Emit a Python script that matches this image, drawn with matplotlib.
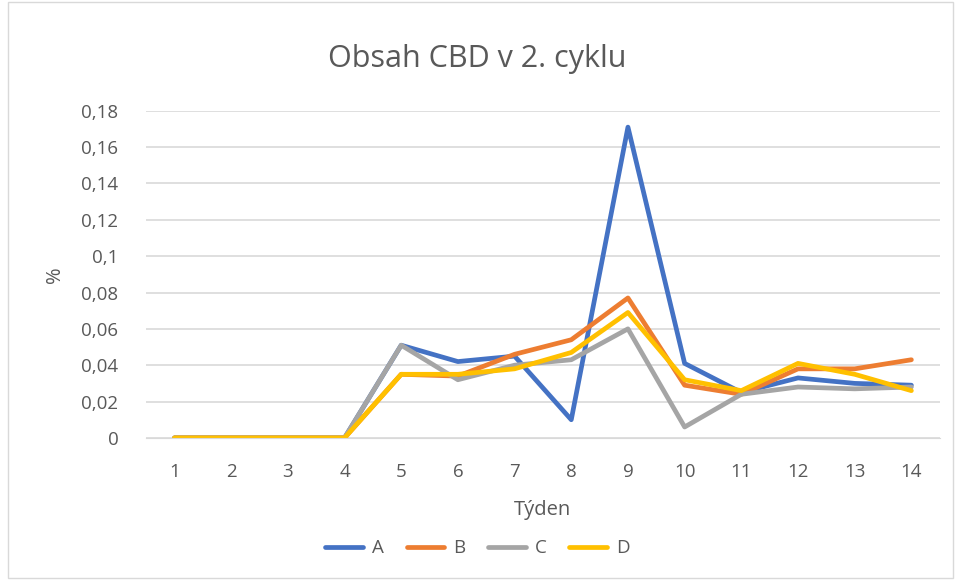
import matplotlib.pyplot as plt
from matplotlib.patches import Rectangle
from matplotlib.ticker import FuncFormatter

plt.rcParams['font.family'] = ['Open Sans', 'DejaVu Sans']

weeks = list(range(1, 15))
a = [0, 0, 0, 0, 0.051, 0.042, 0.045, 0.010, 0.171, 0.041, 0.025, 0.033, 0.030, 0.029]
b = [0, 0, 0, 0, 0.035, 0.034, 0.046, 0.054, 0.077, 0.029, 0.024, 0.038, 0.038, 0.043]
c = [0, 0, 0, 0, 0.051, 0.032, 0.040, 0.043, 0.060, 0.006, 0.024, 0.028, 0.027, 0.028]
d = [0, 0, 0, 0, 0.035, 0.035, 0.038, 0.047, 0.069, 0.032, 0.026, 0.041, 0.035, 0.026]
yticks = [0, 0.02, 0.04, 0.06, 0.08, 0.1, 0.12, 0.14, 0.16, 0.18]

series = [('A', a, '#4472c4'), ('B', b, '#ed7d31'), ('C', c, '#a5a5a5'), ('D', d, '#ffc000')]
txt = '#595959'

fig = plt.figure(figsize=(9.55, 5.8), dpi=100)
ax = fig.add_axes([0.153, 0.245, 0.831, 0.564])

for name, vals, col in series:
    ax.plot(weeks, vals, color=col, lw=3.4, label=name, solid_capstyle='round', solid_joinstyle='round')

ax.set_xlim(0.5, 14.5)
ax.set_ylim(0, 0.18)
ax.set_yticks(yticks)
ax.yaxis.set_major_formatter(FuncFormatter(lambda v, p: ('%g' % v).replace('.', ',')))
ax.set_xticks(weeks)
ax.grid(axis='y', color='#d9d9d9', lw=1.2)
ax.set_axisbelow(True)
for s in ['top', 'right', 'left']:
    ax.spines[s].set_visible(False)
ax.spines['bottom'].set_color('#d9d9d9')
ax.tick_params(length=0, colors=txt, labelsize=13.5, pad=18)
ax.tick_params(axis='y', pad=20)

ax.set_xlabel('Týden', color=txt, fontsize=14.5, labelpad=14)
ax.set_ylabel('%', color=txt, fontsize=14.5, labelpad=12)
fig.suptitle('Obsah CBD v 2. cyklu', color=txt, fontsize=22, y=0.925)

fig.legend(loc='lower center', bbox_to_anchor=(0.5, 0.01), ncol=4, frameon=False,
           fontsize=13.5, labelcolor=txt, handlelength=2.0, handletextpad=0.5, columnspacing=1.2)

fig.patches.append(Rectangle((0.008, 0.003), 0.99, 0.994, transform=fig.transFigure,
                             fill=False, edgecolor='#d9d9d9', lw=1))

fig.savefig('out.png', dpi=100)
